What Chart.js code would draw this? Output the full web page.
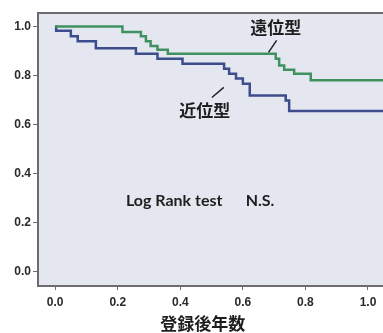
<!DOCTYPE html>
<html>
<head>
<meta charset="utf-8">
<script src="https://cdn.jsdelivr.net/npm/chart.js@4"></script>
<style>
  body { margin: 0; background: #fff; }
  canvas { display: block; }
</style>
</head>
<body>
<canvas id="kmChart" width="383" height="333"></canvas>
<script>
// Kaplan-Meier curves (years after registration, survival)
const distalTimes = [0, 0.215, 0.274, 0.29, 0.305, 0.327, 0.36, 0.705, 0.716, 0.732, 0.764, 0.817, 1.06];
const distalSurv  = [1.0, 0.977, 0.96, 0.94, 0.92, 0.905, 0.889, 0.868, 0.841, 0.823, 0.807, 0.78, 0.78];

const proximalTimes = [0, 0.003, 0.05, 0.072, 0.13, 0.258, 0.327, 0.407, 0.54, 0.556, 0.578, 0.6, 0.622, 0.737, 0.748, 1.06];
const proximalSurv  = [1.0, 0.983, 0.96, 0.94, 0.911, 0.889, 0.868, 0.848, 0.827, 0.807, 0.787, 0.766, 0.718, 0.698, 0.655, 0.655];

const xTicks = [0, 0.2, 0.4, 0.6, 0.8, 1.0];
const yTicks = [0, 0.2, 0.4, 0.6, 0.8, 1.0];

const xTitle = '登録後年数';
const distalLabel = '遠位型';
const proximalLabel = '近位型';
const testLabel = 'Log Rank test';
const testResult = 'N.S.';

function toPoints(times, surv) {
    return times.map((t, i) => ({ x: t, y: surv[i] }));
}

const plotDecor = {
    id: 'plotDecor',
    beforeDraw(chart) {
        const { ctx, chartArea: a } = chart;
        ctx.save();
        ctx.fillStyle = '#e5e7f0';
        ctx.fillRect(a.left, a.top, a.right - a.left, a.bottom - a.top);
        ctx.restore();
    },
    afterDraw(chart) {
        const { ctx, chartArea: a, scales } = chart;
        const px = v => scales.x.getPixelForValue(v);
        const py = v => scales.y.getPixelForValue(v);
        ctx.save();
        // top border
        ctx.strokeStyle = '#6b6b70';
        ctx.lineWidth = 2;
        ctx.beginPath();
        ctx.moveTo(a.left, a.top);
        ctx.lineTo(a.right, a.top);
        ctx.stroke();

        // leader lines
        ctx.strokeStyle = '#222';
        ctx.lineWidth = 1.5;
        ctx.beginPath();
        ctx.moveTo(px(0.682), py(0.894));
        ctx.lineTo(px(0.708), py(0.943));
        ctx.moveTo(px(0.501), py(0.71));
        ctx.lineTo(px(0.539), py(0.751));
        ctx.stroke();

        // group labels
        ctx.fillStyle = '#1e1e1e';
        ctx.textAlign = 'center';
        ctx.textBaseline = 'middle';
        ctx.font = 'bold 17px "Noto Sans CJK JP"';
        ctx.fillText(distalLabel, px(0.705), py(0.996));
        ctx.fillText(proximalLabel, px(0.478), py(0.657));

        // test note
        ctx.textAlign = 'left';
        ctx.font = 'bold 16px Lato';
        ctx.fillText(testLabel, px(0.226), py(0.286));
        ctx.fillText(testResult, px(0.609), py(0.286));

        // x axis title
        ctx.textAlign = 'center';
        ctx.font = 'bold 17px "Noto Sans CJK JP"';
        ctx.fillText(xTitle, px(0.472), 324);
        ctx.restore();
    }
};

new Chart(document.getElementById('kmChart'), {
    type: 'line',
    data: {
        datasets: [{
            label: distalLabel,
            data: toPoints(distalTimes, distalSurv),
            borderColor: '#3f9160',
            borderWidth: 2.5,
            stepped: 'before',
            pointRadius: 0,
            fill: false
        }, {
            label: proximalLabel,
            data: toPoints(proximalTimes, proximalSurv),
            borderColor: '#3d4d8c',
            borderWidth: 2.5,
            stepped: 'before',
            pointRadius: 0,
            fill: false
        }]
    },
    options: {
        responsive: false,
        animation: false,
        layout: { padding: { top: 13, right: 0, left: 0, bottom: 0 } },
        plugins: {
            legend: { display: false },
            tooltip: { enabled: false }
        },
        scales: {
            x: {
                type: 'linear',
                min: -0.055,
                max: 1.048,
                afterBuildTicks: s => { s.ticks = xTicks.map(v => ({ value: v })); },
                afterFit: s => { s.height = 47; },
                border: { display: true, color: '#6b6b70', width: 2 },
                grid: { drawOnChartArea: false, tickLength: 4, color: '#6b6b70', tickWidth: 1 },
                ticks: {
                    color: '#2a2a2a',
                    font: { family: 'Liberation Sans', size: 12, weight: 'bold' },
                    padding: 5,
                    maxRotation: 0,
                    callback: v => v.toFixed(1)
                }
            },
            y: {
                type: 'linear',
                min: -0.06,
                max: 1.055,
                afterBuildTicks: s => { s.ticks = yTicks.map(v => ({ value: v })); },
                afterFit: s => { s.width = 38; },
                border: { display: true, color: '#6b6b70', width: 2 },
                grid: { drawOnChartArea: false, tickLength: 5, color: '#6b6b70', tickWidth: 1 },
                ticks: {
                    color: '#2a2a2a',
                    font: { family: 'Liberation Sans', size: 12, weight: 'bold' },
                    padding: 2,
                    callback: v => v.toFixed(1)
                }
            }
        }
    },
    plugins: [plotDecor]
});
</script>
</body>
</html>
